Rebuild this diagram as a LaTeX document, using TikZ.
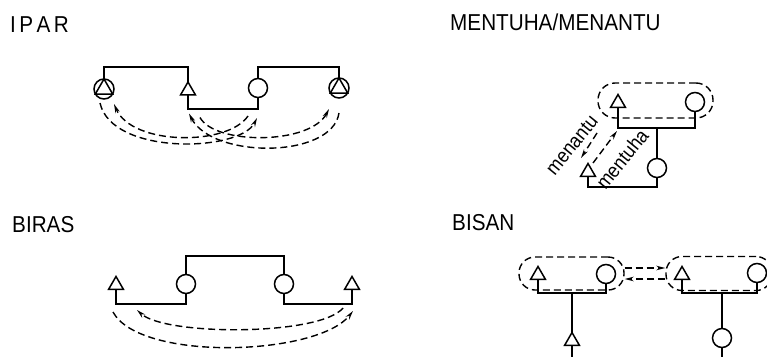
\documentclass[tikz,border=0pt]{standalone}
\usepackage{fontspec}
\usepackage{graphicx}
\setmainfont{Liberation Sans}
\usetikzlibrary{arrows.meta,shapes.geometric,calc}
\newcommand{\narrowtxt}[1]{\scalebox{0.9}[1]{#1}}
\begin{document}
\begin{tikzpicture}[x=1pt,y=-1pt,
  man/.style={draw, regular polygon, regular polygon sides=3, minimum size=17pt, inner sep=0pt, outer sep=0pt, line width=1.5pt},
  woman/.style={draw, circle, minimum size=19pt, inner sep=0pt, outer sep=0pt, line width=1.5pt},
  both/.style={draw, circle, minimum size=20pt, inner sep=0pt, outer sep=0pt, line width=1.5pt},
  kin/.style={line width=1.7pt},
  rel/.style={dash pattern=on 7pt off 4pt, line width=1.4pt},
  relarrow/.style={rel, -{Stealth[length=9pt,width=4.5pt]}},
  group/.style={draw, dash pattern=on 7pt off 4pt, line width=1.4pt, rectangle, rounded corners=16pt, inner sep=0pt},
  title/.style={font=\fontsize{23}{26}\selectfont, anchor=base west, inner sep=0pt},
  lab/.style={font=\fontsize{20}{22}\selectfont, inner sep=0pt, rotate=51}
]
\useasboundingbox (0,0) rectangle (767,356);
\clip (0,0) rectangle (767,356);

% titles
\node[title] (tIpar) at (10,32) {\narrowtxt{I\,P\,A\,R}};
\node[title] (tMen) at (450,30) {\narrowtxt{MENTUHA/MENANTU}};
\node[title] (tBiras) at (12,232) {\narrowtxt{BIRAS}};
\node[title] (tBisan) at (452,230) {\narrowtxt{BISAN}};

% ---------- IPAR ----------
\node[both] (a1) at (104,89) {};
\draw[line width=1.5pt] (a1.90) -- (a1.210) -- (a1.330) -- cycle;
\node[man] (a2) at (188,90.5) {};
\node[woman] (a3) at (258,88) {};
\node[both] (a4) at (339,88) {};
\draw[line width=1.5pt] (a4.90) -- (a4.210) -- (a4.330) -- cycle;
\coordinate (aTop) at (0,67);
\coordinate (aBot) at (0,109);
\draw[kin] (a1.north) -- (a1.north |- aTop) -| (a2.north);
\draw[kin] (a3.north) -- (a3.north |- aTop) -| (a4.north);
\draw[kin] (a2.south) -- (a2.south |- aBot) -| (a3.south);
\draw[relarrow] ($(a1)+(-4,14)$) .. controls (112,156) and (240,152) .. ($(a3)+(-1,30)$);
\draw[relarrow] ($(a3)+(-10,28)$) .. controls (228,146) and (132,146) .. ($(a1)+(10,15)$);
\draw[relarrow] ($(a4)+(0,25)$) .. controls (332,159) and (212,159) .. ($(a2)+(1,23)$);
\draw[relarrow] ($(a2)+(12,27)$) .. controls (215,145) and (310,145) .. ($(a4)+(-10,21)$);

% ---------- BIRAS ----------
\node[man] (b1) at (116,285) {};
\node[woman] (b2) at (186,284) {};
\node[woman] (b3) at (284,284) {};
\node[man] (b4) at (352,285) {};
\coordinate (bTop) at (0,256);
\coordinate (bBot) at (0,304);
\draw[kin] (b2.north) -- (b2.north |- bTop) -| (b3.north);
\draw[kin] (b1.south) -- (b1.south |- bBot) -| (b2.south);
\draw[kin] (b3.south) -- (b3.south |- bBot) -| (b4.south);
\draw[relarrow] ($(b1)+(-3,27)$) .. controls (140,362) and (318,356) .. ($(b4)+(1,26)$);
\draw[relarrow] ($(b4)+(-9,23)$) .. controls (320,336) and (165,336) .. ($(b1)+(21,25)$);

% ---------- MENTUHA / MENANTU ----------
\node[group, rounded corners=17pt, minimum width=115pt, minimum height=35pt] (mg) at (655.5,100.5) {};
\node[man] (m1) at (618,103) {};
\node[woman] (m2) at (695,102) {};
\node[woman] (m3) at (657,168) {};
\node[man] (m4) at (588,172) {};
\coordinate (mBot1) at (0,128);
\coordinate (mBot2) at (0,187);
\draw[kin] (m1.south) -- (m1.south |- mBot1) -| (m2.south);
\draw[kin] (m3.north) -- (m3.north |- mBot1);
\draw[kin] (m4.south) -- (m4.south |- mBot2) -| (m3.south);
\draw[relarrow] ($(m1)+(-21,30)$) -- ($(m4)+(-7,-14)$);
\draw[relarrow] ($(m4)+(5,-9)$) -- ($(m1)+(-1,28)$);
\node[lab] (lMenantu) at (572,145) {\narrowtxt{menantu}};
\node[lab] (lMentuha) at (622,159) {\narrowtxt{mentuha}};

% ---------- BISAN ----------
\node[group, minimum width=105pt, minimum height=33pt] (sL) at (571.5,273.5) {};
\node[group, minimum width=106pt, minimum height=34pt] (sR) at (719,273.5) {};
\node[man] (n1) at (538,275) {};
\node[woman] (n2) at (606,274) {};
\node[man] (n3) at (572,341) {};
\node[man] (n4) at (682,275) {};
\node[woman] (n5) at (757,273) {};
\node[woman] (n6) at (722,338) {};
\coordinate (nBot) at (0,293);
\coordinate (nEnd) at (0,362);
\draw[kin] (n1.south) -- (n1.south |- nBot) -| (n2.south);
\draw[kin] (n3.north) -- (n3.north |- nBot);
\draw[kin] (n3.south) -- (n3.south |- nEnd);
\draw[kin] (n4.south) -- (n4.south |- nBot) -| (n5.south);
\draw[kin] (n6.north) -- (n6.north |- nBot);
\draw[kin] (n6.south) -- (n6.south |- nEnd);
\draw[relarrow] ([yshift=5.5pt]sL.east) -- ([yshift=5.5pt]sR.west);
\draw[relarrow] ([yshift=-5.5pt]sR.west) -- ([yshift=-5.5pt]sL.east);
\end{tikzpicture}
\end{document}
